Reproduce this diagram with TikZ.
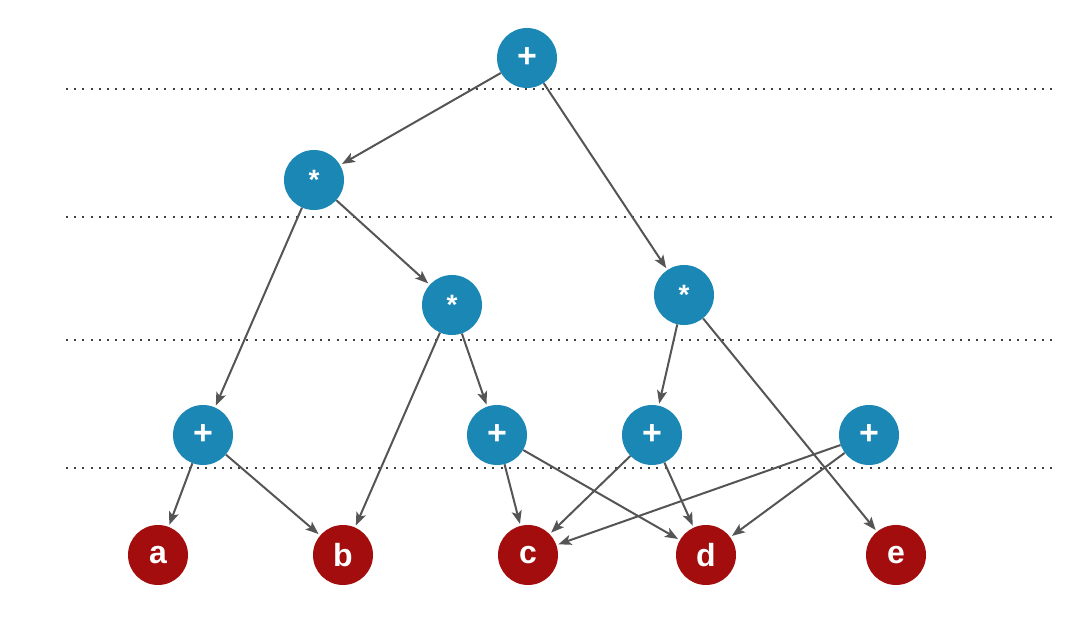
\documentclass[tikz,border=0pt]{standalone}
\usepackage{fontspec}
\setmainfont{Liberation Sans}
\usetikzlibrary{arrows.meta}
\definecolor{opblue}{HTML}{1A87B5}
\definecolor{leafred}{HTML}{A30D0D}
\definecolor{edgegray}{HTML}{555555}
\tikzset{
  opnode/.style={circle, fill=opblue, minimum size=60pt, inner sep=0pt, text=white, font=\bfseries\fontsize{34}{34}\selectfont},
  starnode/.style={opnode, font=\bfseries\fontsize{28}{28}\selectfont},
  leafnode/.style={circle, fill=leafred, minimum size=60pt, inner sep=0pt, text=white, font=\bfseries\fontsize{32}{32}\selectfont},
  edge/.style={draw=edgegray, line width=2pt, -{Stealth[length=13pt, width=10pt, inset=3pt]}, shorten >=2pt},
  levelline/.style={draw=black!75, line width=2.4pt, dash pattern=on 2pt off 6.2pt}
}
\begin{document}
\begin{tikzpicture}[x=1pt, y=-1pt]
\useasboundingbox (0,0) rectangle (1073,644);
\fill[white] (0,0) rectangle (1073,644);
% level lines
\coordinate (l1a) at (66,89);  \coordinate (l1b) at (1058,89);
\coordinate (l2a) at (66,217); \coordinate (l2b) at (1058,217);
\coordinate (l3a) at (66,340); \coordinate (l3b) at (1058,340);
\coordinate (l4a) at (66,468); \coordinate (l4b) at (1058,468);
\draw[levelline] (l1a) -- (l1b);
\draw[levelline] (l2a) -- (l2b);
\draw[levelline] (l3a) -- (l3b);
\draw[levelline] (l4a) -- (l4b);
% nodes
\node[opnode] (root) at (527,58) {+};
\node[starnode] (m1) at (314,180) {*};
\node[starnode] (m2) at (452,305) {*};
\node[starnode] (m3) at (684,295) {*};
\node[opnode] (p1) at (203,435) {+};
\node[opnode] (p2) at (497,435) {+};
\node[opnode] (p3) at (652,435) {+};
\node[opnode] (p4) at (869,435) {+};
\node[leafnode] (a) at (158,555) {a};
\node[leafnode] (b) at (343,555) {b};
\node[leafnode] (c) at (528,555) {c};
\node[leafnode] (d) at (706,555) {d};
\node[leafnode] (e) at (896,555) {e};
% edges
\draw[edge] (root) -- (m1);
\draw[edge] (root) -- (m3);
\draw[edge] (m1) -- (p1);
\draw[edge] (m1) -- (m2);
\draw[edge] (m2) -- (b);
\draw[edge] (m2) -- (p2);
\draw[edge] (m3) -- (p3);
\draw[edge] (m3) -- (e);
\draw[edge] (p1) -- (a);
\draw[edge] (p1) -- (b);
\draw[edge] (p2) -- (c);
\draw[edge] (p2) -- (d);
\draw[edge] (p3) -- (c);
\draw[edge] (p3) -- (d);
\draw[edge] (p4) -- (c);
\draw[edge] (p4) -- (d);
\end{tikzpicture}
\end{document}
